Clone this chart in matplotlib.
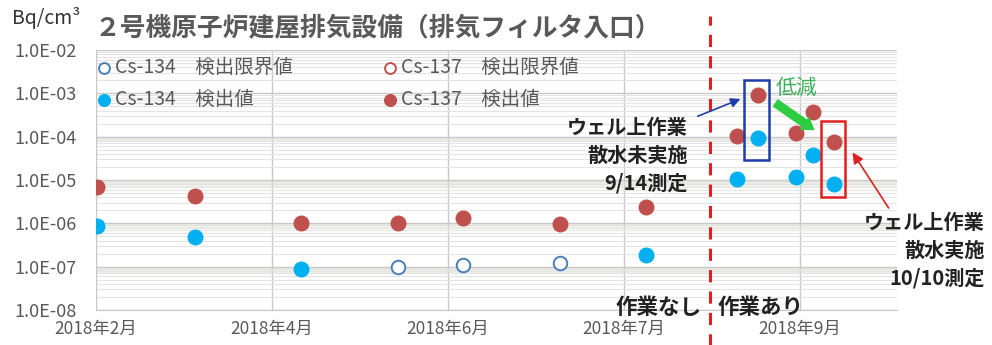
import matplotlib
matplotlib.use("Agg")
import matplotlib.pyplot as plt
from matplotlib.patches import Rectangle, FancyArrowPatch
from matplotlib.ticker import FuncFormatter
import numpy as np

plt.rcParams['font.family'] = ['Noto Sans CJK JP', 'DejaVu Sans']

# 測定日 (軸上の位置, 日)
days = [0.3, 28.1, 58.2, 85.8, 104.3, 131.8, 156.3, 182.1, 188.1, 198.9, 203.7, 209.7]

# Cs-134: 検出値 / 検出限界値 (None = 該当なし)
cs134_det = [8.7e-7, 4.8e-7, 9.0e-8, None, None, None, 1.9e-7, 1.05e-5, 9.5e-5, 1.2e-5, 3.8e-5, 8.0e-6]
cs134_lim = [None, None, None, 1.0e-7, 1.1e-7, 1.2e-7, None, None, None, None, None, None]
# Cs-137: 検出値 / 検出限界値
cs137_det = [6.9e-6, 4.2e-6, 1.0e-6, 1.0e-6, 1.3e-6, 9.6e-7, 2.4e-6, 1.05e-4, 9.0e-4, 1.2e-4, 3.7e-4, 7.6e-5]
cs137_lim = [None] * 12

tick_pos = [0, 50, 100, 150, 200]
tick_labels = ["2018年2月", "2018年4月", "2018年6月", "2018年7月", "2018年9月"]
work_start = 174.4

GRAY = "#595959"
RED = "#c0504d"
BLUE = "#00b0f0"
LIM_BLUE = "#4a7ebb"


def pick(vals):
    xs = [d for d, v in zip(days, vals) if v is not None]
    ys = [v for v in vals if v is not None]
    return xs, ys


fig = plt.figure(figsize=(9.92, 3.45), dpi=100)
ax = fig.add_axes([96 / 992, 1 - 310 / 345, (897 - 96) / 992, 260 / 345])

x, y = pick(cs134_lim)
h1 = ax.scatter(x, y, s=95, facecolors="white", edgecolors=LIM_BLUE, linewidths=1.4, zorder=3,
                label="Cs-134　検出限界値")
x, y = pick(cs134_det)
h2 = ax.scatter(x, y, s=110, color=BLUE, zorder=3, label="Cs-134　検出値")
x, y = pick(cs137_lim)
h3 = ax.scatter(x, y, s=95, facecolors="white", edgecolors=RED, linewidths=1.4, zorder=3,
                label="Cs-137　検出限界値")
x, y = pick(cs137_det)
h4 = ax.scatter(x, y, s=110, color=RED, zorder=3, label="Cs-137　検出値")

ax.set_yscale("log")
ax.set_ylim(1e-8, 1e-2)
ax.set_xlim(0, (897 - 96) / 3.52)
ax.set_xticks(tick_pos)
ax.set_xticklabels(tick_labels)
ax.yaxis.set_major_formatter(FuncFormatter(lambda v, p: f"{v:.1E}"))
ax.tick_params(axis="both", length=0, labelsize=13, colors=GRAY)
ax.tick_params(axis="x", labelsize=12.5)
ax.tick_params(axis="y", pad=14)
ax.tick_params(axis="x", pad=7)
ax.tick_params(axis="y", which="minor", length=0)

ax.grid(True, which="major", axis="both", color="#c8c8c8", lw=1.0)
ax.grid(True, which="minor", axis="y", color="#e4e4e4", lw=0.8)
ax.set_axisbelow(True)
for s in ["top", "right"]:
    ax.spines[s].set_visible(False)
for s in ["left", "bottom"]:
    ax.spines[s].set_color("#c8c8c8")

# 背景のうすい帯
for lo, hi in [(7e-6, 1e-5), (8e-7, 1e-6), (7e-8, 1e-7), (8e-5, 1e-4)]:
    ax.axhspan(lo, hi, color="#eef1e4", zorder=0, lw=0)

leg = ax.legend(handles=[h1, h2, h3, h4], ncol=2, loc="upper left", frameon=False,
                bbox_to_anchor=(0, 0.973), fontsize=14, handletextpad=0.18,
                handlelength=0.8, columnspacing=4.6, labelspacing=0.55,
                borderaxespad=0.0, borderpad=0.0, markerscale=0.8)
for t in leg.get_texts():
    t.set_color(GRAY)

# 作業の区切り
ax.axvline(work_start, ymin=-0.14, ymax=1.13, color="#e02020", lw=2.2,
           ls=(0, (4, 3)), clip_on=False, zorder=4)

# 9/14 測定 (散水未実施)
ax.add_patch(Rectangle((184.1, 2.9e-5), 7.1, 2.0e-3 - 2.9e-5, fill=False,
                       ec="#1f3fa8", lw=1.8, zorder=4))
ax.add_patch(FancyArrowPatch((170.2, 2.8e-4), (183.8, 7.8e-4), arrowstyle="-|>",
                             mutation_scale=14, color="#1f3fa8", lw=1.2, zorder=5))
# 10/10 測定 (散水実施)
ax.add_patch(Rectangle((206.0, 4.1e-6), 6.8, 2.3e-4 - 4.1e-6, fill=False,
                       ec="#e02020", lw=1.8, zorder=4))
ax.add_patch(FancyArrowPatch((225.6, 2.0e-6), (214.5, 4.9e-5), arrowstyle="-|>",
                             mutation_scale=16, color="#e02020", lw=1.2, zorder=5,
                             clip_on=False))
# 低減
ax.add_patch(FancyArrowPatch((192.3, 6.6e-4), (204.8, 1.29e-4),
                             arrowstyle="simple,head_width=1.2,head_length=0.9,tail_width=0.65",
                             mutation_scale=10, color="#2ecc40", lw=0, zorder=5))
ax.text(193.0, 1.33e-3, "低減", color="#3cb05a", fontsize=15, ha="left", va="center", zorder=5)

# テキスト
fig.text(12 / 992, 1 - 18 / 345, "Bq/cm³", fontsize=14, color="#333333", va="center")
fig.text(94 / 992, 1 - 28 / 345, "２号機原子炉建屋排気設備（排気フィルタ入口）", fontsize=18.5,
         fontweight="bold", color=GRAY, va="center")
fig.text(688 / 992, 1 - 155 / 345, "ウェル上作業\n散水未実施\n9/14測定", fontsize=14.5,
         fontweight="bold", color="#222222", ha="right", va="center", linespacing=1.4)
fig.text(985 / 992, 1 - 250 / 345, "ウェル上作業\n散水実施\n10/10測定", fontsize=14.5,
         fontweight="bold", color="#222222", ha="right", va="center", linespacing=1.4)
fig.text(702 / 992, 1 - 307 / 345, "作業なし", fontsize=15.5, fontweight="bold",
         color="#222222", ha="right", va="center")
fig.text(718 / 992, 1 - 307 / 345, "作業あり", fontsize=15.5, fontweight="bold",
         color="#222222", ha="left", va="center")

fig.savefig("out.png", dpi=100)
